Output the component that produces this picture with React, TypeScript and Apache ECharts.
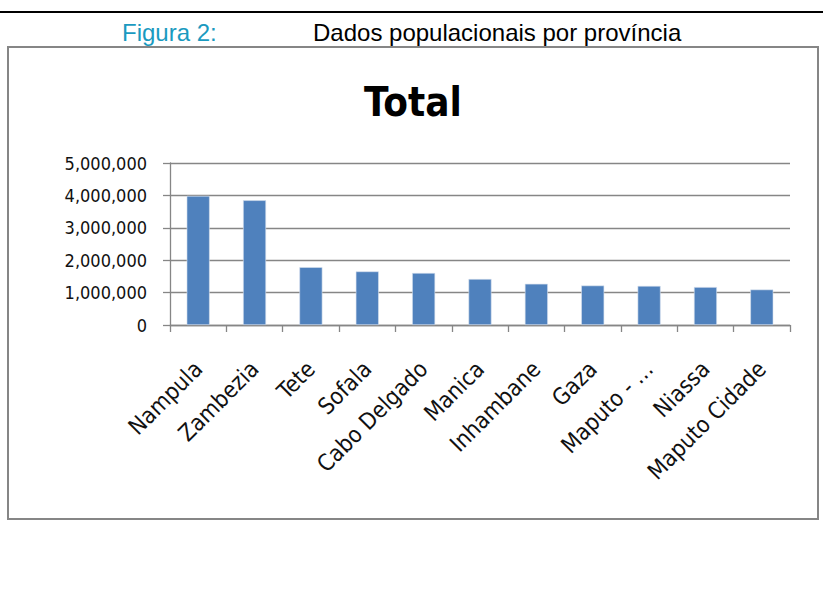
import React, { useEffect, useRef } from "react";
import * as echarts from "echarts";

const categories = [
  "Nampula",
  "Zambezia",
  "Tete",
  "Sofala",
  "Cabo Delgado",
  "Manica",
  "Inhambane",
  "Gaza",
  "Maputo - …",
  "Niassa",
  "Maputo Cidade",
];
const totals = [3985000, 3849000, 1784000, 1654000, 1606000, 1419000, 1272000, 1219000, 1206000, 1171000, 1095000];
const yTicks = [0, 1000000, 2000000, 3000000, 4000000, 5000000];
const figureLabel = "Figura 2:";
const figureCaption = "Dados populacionais por província";
const chartTitle = "Total";

const COND = "'DejaVu Sans Condensed', 'Open Sans', sans-serif";
const ARIAL = "'Liberation Sans', Arial, sans-serif";

export default function App() {
  const ref = useRef<HTMLDivElement>(null);
  useEffect(() => {
    if (!ref.current) return;
    const chart = echarts.init(ref.current, null, { renderer: "svg" });
    chart.setOption({
      animation: false,
      backgroundColor: "#ffffff",
      grid: { left: 170, right: 33, top: 163, bottom: 285, containLabel: false },
      xAxis: {
        type: "category",
        data: categories,
        axisLine: { show: true, lineStyle: { color: "#868686", width: 1.3 } },
        axisTick: { show: true, alignWithLabel: false, length: 7, lineStyle: { color: "#868686", width: 1.3 } },
        axisLabel: {
          interval: 0,
          rotate: 45,
          margin: 40,
          fontFamily: COND,
          fontSize: 23,
          color: "#111",
        },
      },
      yAxis: {
        type: "value",
        min: yTicks[0],
        max: yTicks[yTicks.length - 1],
        interval: yTicks[1] - yTicks[0],
        axisLine: { show: true, lineStyle: { color: "#868686", width: 1.3 } },
        axisTick: { show: true, length: 7, lineStyle: { color: "#868686", width: 1.3 } },
        splitLine: { show: true, lineStyle: { color: "#868686", width: 1.3 } },
        axisLabel: {
          margin: 23,
          fontFamily: COND,
          fontSize: 18,
          color: "#111",
          formatter: (v: number) => v.toLocaleString("en-US"),
        },
      },
      series: [
        {
          type: "bar",
          data: totals,
          barWidth: 23,
          itemStyle: { color: "#4F81BD", borderColor: "#d6e0ee", borderWidth: 0.6 },
        },
      ],
      graphic: [
        { type: "line", shape: { x1: 0, y1: 12, x2: 823, y2: 12 }, style: { stroke: "#000", lineWidth: 2 } },
        {
          type: "text",
          x: 122,
          y: 32,
          style: { text: figureLabel, fill: "#1a9ac0", font: "24px " + ARIAL, textVerticalAlign: "middle" },
        },
        {
          type: "text",
          x: 313,
          y: 32,
          style: { text: figureCaption, fill: "#000", font: "24px " + ARIAL, textVerticalAlign: "middle" },
        },
        {
          type: "rect",
          shape: { x: 8, y: 47, width: 810, height: 472 },
          style: { fill: "none", stroke: "#868686", lineWidth: 2 },
        },
        {
          type: "text",
          x: 413,
          y: 102,
          style: {
            text: chartTitle,
            fill: "#000",
            font: "bold 40px " + COND,
            textAlign: "center",
            textVerticalAlign: "middle",
          },
        },
      ],
    });
    return () => chart.dispose();
  }, []);
  return <div ref={ref} style={{ position: "absolute", left: 0, top: 0, width: 823, height: 610 }} />;
}
